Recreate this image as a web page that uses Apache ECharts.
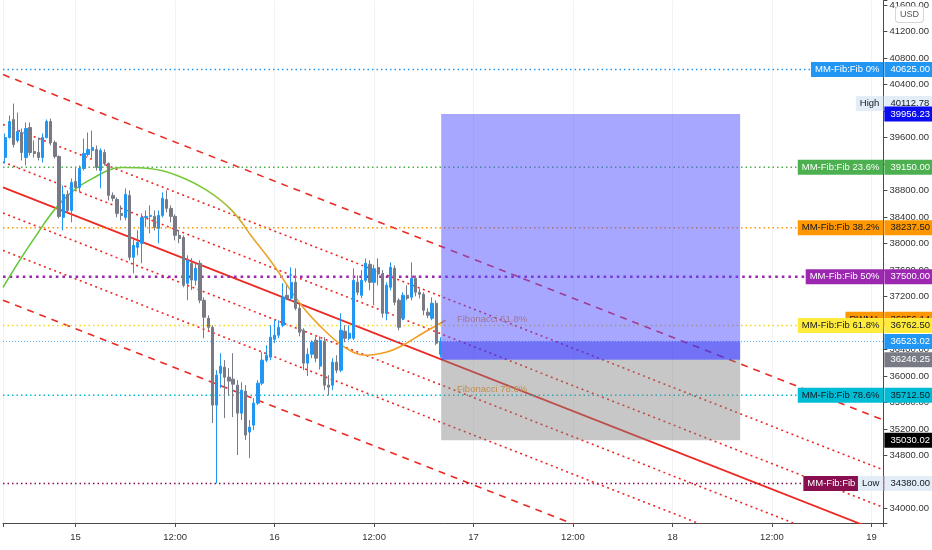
<!DOCTYPE html>
<html>
<head>
<meta charset="utf-8">
<script src="https://cdn.jsdelivr.net/npm/echarts@6/dist/echarts.min.js"></script>
<style>
html, body { margin: 0; padding: 0; background: #fff; }
#chart { width: 932px; height: 550px; }
</style>
</head>
<body>
<div id="chart"></div>
<script>
// time is in hours from 15 Jan 00:00, candles every 30 minutes
const candleStart = -8.5
const candleStep = 0.5

const opens = [
    39299, 39600, 39872, 39555, 39676, 39300, 39751, 39389, 39374, 39299,
    39600, 39842, 39525, 39314, 38395, 38742, 38500, 38937, 38847, 39133,
    39344, 39404, 39420, 39103, 39374, 39209, 38727, 38666, 38455, 38395,
    38727, 37792, 37943, 38003, 38395, 38410, 38410, 38229, 38425, 38666,
    38531, 38410, 38124, 38093, 37400, 37700, 37445, 37702, 37144, 36873,
    36737, 35562, 36044, 36135, 35984, 35954, 35863, 35441, 35773, 35155,
    35260, 35592, 35893, 36240, 36285, 36556, 36616, 36767, 37219, 37174,
    37415, 37023, 36692, 36195, 36330, 36541, 36150, 36526, 35863, 35863,
    36210, 36089, 36677, 36571, 36571, 37415, 37219, 37445, 37687, 37415,
    37640, 37540, 36948, 37340, 37626, 37144, 36873, 37219, 37189, 37475,
    37265, 37235, 36963, 36873, 37099, 36330
]
const closes = [
    39600, 39842, 39495, 39691, 39374, 39736, 39374, 39359, 39299, 39600,
    39842, 39525, 39314, 38410, 38742, 38500, 38922, 38847, 39133, 39359,
    39420, 39450, 39148, 39404, 39209, 38727, 38682, 38455, 38425, 38742,
    37792, 37973, 38018, 38395, 38410, 38425, 38244, 38425, 38682, 38531,
    38410, 38124, 38078, 37370, 37747, 37450, 37626, 37144, 36888, 36737,
    35562, 36014, 36150, 35984, 35924, 35878, 35441, 35788, 35110, 35230,
    35592, 35893, 36240, 36315, 36586, 36616, 36737, 37189, 37174, 37415,
    37023, 36662, 36195, 36330, 36511, 36270, 36541, 35863, 35833, 36210,
    36089, 36692, 36571, 36647, 37445, 37265, 37445, 37702, 37415, 37620,
    37540, 36948, 37370, 37641, 37114, 36737, 37219, 37174, 37475, 37265,
    37235, 36993, 36918, 37099, 36496, 36523.02
]
const lows = [
    39209, 39585, 39450, 39525, 39254, 39178, 39329, 39299, 39254, 39224,
    39585, 39480, 39284, 38380, 38199, 38455, 38320, 38832, 38772, 39103,
    39314, 39284, 39103, 38832, 39178, 38651, 38636, 38395, 38350, 38350,
    37747, 37551, 37822, 37702, 38244, 38154, 38199, 38003, 38395, 38470,
    38320, 38048, 38003, 37340, 37144, 37300, 37370, 37099, 36571, 36692,
    35290, 34380, 35818, 35366, 35712, 35381, 34808, 35336, 35034, 34763,
    35185, 35562, 35863, 36210, 36240, 36496, 36571, 36737, 37144, 37144,
    36993, 36601, 36089, 36000, 36270, 36210, 36100, 35788, 35712, 35788,
    36044, 36059, 36511, 36541, 36541, 37219, 37174, 37415, 37295, 37069,
    37370, 36880, 36843, 37295, 37069, 36692, 36843, 37144, 37144, 37204,
    37174, 36918, 36873, 36843, 36466, 36280
]
const highs = [
    39660, 39932, 40112.78, 39977, 39736, 39827, 39827, 39555, 39600, 39660,
    39872, 39887, 39555, 39329, 38877, 38802, 38982, 39148, 39178, 39585,
    39676, 39706, 39480, 39435, 39420, 39224, 38772, 38697, 38576, 38832,
    38802, 38093, 38199, 38455, 38500, 38576, 38500, 38500, 38772, 38802,
    38576, 38440, 38199, 38124, 37822, 37780, 37717, 37747, 37189, 36918,
    36767, 36089, 36345, 36240, 36119, 36345, 35939, 35908, 35863, 35336,
    35667, 35939, 36360, 36466, 36767, 36843, 36843, 37400, 37370, 37641,
    37626, 37099, 36722, 36420, 36541, 36600, 36600, 36586, 36014, 36270,
    36315, 36948, 36767, 36767, 37626, 37520, 37600, 37777, 37747, 37680,
    37777, 37600, 37415, 37717, 37671, 37174, 37265, 37370, 37717, 37520,
    37325, 37265, 37023, 37189, 37144, 36586
]

// MM-Fib levels
const fibNames = ['MM-Fib:Fib 0%', 'MM-Fib:Fib 23.6%', 'MM-Fib:Fib 38.2%', 'MM-Fib:Fib 50%',
    'MM-Fib:Fib 61.8%', 'MM-Fib:Fib 78.6%', 'MM-Fib:Fib']
const fibPrices = [40625, 39150, 38237.5, 37500, 36762.5, 35712.5, 34380]
const fibColors = ['#2196f3', '#4caf50', '#ff9800', '#9c27b0', '#f2d51c', '#00bcd4', '#880e4f']
const fibLabelBg = ['#2196f3', '#4caf50', '#ff9800', '#9c27b0', '#ffeb3b', '#00bcd4', '#880e4f']
const fibTextColors = ['#fff', '#fff', '#131722', '#fff', '#131722', '#131722', '#fff']

// regression channel (centre line at both ends of the view, offsets of the other lines)
const channelTimes = [-8.76, 97.44]
const channelCentre = [38847, 33633]
const channelOffsets = [1703, 950, 385, 0, -385, -950, -1703]
const channelKinds = ['dashed', 'dotted', 'dotted', 'solid', 'dotted', 'dotted', 'dashed']

// arc drawn over the candles
const curveTimes = [-8.76, -5.16, -1.56, 2.04, 5.64, 8.88, 12.24, 15.84, 18.84, 21.4, 23.64,
    27.24, 30, 32.64, 35.04, 37.44, 39.24, 41.88, 44.64]
const curvePrices = [37340, 38048, 38651, 38983, 39148, 39133, 39028, 38802, 38500, 38080, 37717,
    37069, 36692, 36421, 36315, 36360, 36451, 36647, 36843]
const curveTexts = ['Fibonacci 61.8%', 'Fibonacci 78.6%']
const curveTextTime = 46
const curveTextPrices = [36762.5, 35712.5]

// long position tool
const posTimes = [44.1, 80.16]
const targetPrice = 39956.23
const lastPrice = 36523.02
const entryPrice = 36246.25
const stopPrice = 35030.02

// other price scale tags
const highPrice = 40112.78
const lowPrice = 34380
const wmaPrice = 36856.14

const X_MIN = -8.76, X_MAX = 97.44
const FONT = 'Liberation Sans, Arial, sans-serif'

let candleData = []
for (let i = 0; i < opens.length; i++) {
    candleData.push([candleStart + i * candleStep, opens[i], closes[i], lows[i], highs[i]])
}

function lineStyleOf(kind, color) {
    if (kind === 'dashed') return { color: color, width: 1.6, type: [7, 6] }
    if (kind === 'dotted') return { color: color, width: 1.6, type: [2, 3.5] }
    return { color: color, width: 1.8, type: 'solid' }
}

let series = []

// channel lines
for (let i = 0; i < channelOffsets.length; i++) {
    series.push({
        type: 'line',
        z: 2,
        silent: true,
        symbol: 'none',
        lineStyle: lineStyleOf(channelKinds[i], '#ec2a24'),
        data: [[channelTimes[0], channelCentre[0] + channelOffsets[i]],
               [channelTimes[1], channelCentre[1] + channelOffsets[i]]]
    })
}

// fib horizontal lines
for (let i = 0; i < fibPrices.length; i++) {
    series.push({
        type: 'line',
        z: 2,
        silent: true,
        symbol: 'none',
        lineStyle: i === 3
            ? { color: fibColors[i], width: 2.6, type: [2.6, 4] }
            : { color: fibColors[i], width: 1.5, type: [1.5, 3] },
        data: [[X_MIN, fibPrices[i]], [X_MAX, fibPrices[i]]]
    })
}

// last price line
series.push({
    type: 'line',
    z: 2,
    symbol: 'none',
    lineStyle: { color: '#2196f3', width: 1, type: [1, 2], opacity: 0.8 },
    data: [[X_MIN, lastPrice], [X_MAX, lastPrice]]
})

// arc
series.push({
    type: 'line',
    z: 2,
    symbol: 'none',
    smooth: 0.4,
    lineStyle: {
        width: 1.6,
        color: new echarts.graphic.LinearGradient(0, 0, 1, 0, [
            { offset: 0, color: '#5fc73a' },
            { offset: 0.46, color: '#7cc838' },
            { offset: 0.56, color: '#e6a52a' },
            { offset: 1, color: '#f39c1f' }
        ])
    },
    data: curveTimes.map((t, i) => [t, curvePrices[i]])
})

// arc texts
series.push({
    type: 'scatter',
    z: 2,
    symbolSize: 0,
    clip: false,
    itemStyle: { opacity: 1 },
    data: curveTextPrices.map((p, i) => ({
        value: [curveTextTime, p],
        label: {
            show: true, position: 'right', distance: 0, offset: [0, -6],
            formatter: curveTexts[i], color: '#f09a28', fontSize: 9.5, fontFamily: FONT
        }
    }))
})

// position tool boxes
const posBoxes = [
    [posTimes[0], posTimes[1], entryPrice, targetPrice, 'rgba(80,80,255,0.5)'],
    [posTimes[0], posTimes[1], entryPrice, lastPrice, 'rgba(40,40,235,0.42)'],
    [posTimes[0], posTimes[1], stopPrice, entryPrice, 'rgba(128,128,128,0.44)']
]
series.push({
    type: 'custom',
    z: 3,
    silent: true,
    encode: { x: [0, 1], y: [2, 3] },
    renderItem: function (params, api) {
        const a = api.coord([api.value(0), api.value(3)])
        const b = api.coord([api.value(1), api.value(2)])
        return {
            type: 'rect',
            shape: { x: a[0], y: a[1], width: b[0] - a[0], height: b[1] - a[1] },
            style: { fill: posBoxes[params.dataIndex][4] }
        }
    },
    data: posBoxes.map(b => b.slice(0, 4))
})

// candles
series.push({
    type: 'candlestick',
    z: 4,
    barWidth: 2.8,
    encode: { x: 0, y: [1, 2, 3, 4] },
    itemStyle: {
        color: '#2196f3',
        color0: '#787b86',
        borderColor: '#2196f3',
        borderColor0: '#787b86',
        borderWidth: 1
    },
    data: candleData
})

// price scale tags
function tag(text, bg, fg, side, dx) {
    return {
        show: true,
        position: side,
        distance: side === 'right' ? 1 : 0,
        offset: [dx || 0, 0],
        formatter: text,
        backgroundColor: bg,
        color: fg,
        fontSize: 9.5,
        fontFamily: FONT,
        lineHeight: 11,
        padding: side === 'right' ? [2, 3, 2, 6] : [2, 4, 2, 4]
    }
}
let tags = []
function addTag(price, name, bg, fg, nameDx) {
    if (name) tags.push({ value: [X_MAX, price], label: tag(name, bg, fg, 'left', nameDx) })
    tags.push({ value: [X_MAX, price], label: tag(price.toFixed(2), bg, fg, 'right') })
}
addTag(fibPrices[0], fibNames[0], fibLabelBg[0], fibTextColors[0])
addTag(highPrice, 'High', '#e3edf7', '#131722')
addTag(targetPrice, null, '#0b0bef', '#fff')
addTag(fibPrices[1], fibNames[1], fibLabelBg[1], fibTextColors[1])
addTag(fibPrices[2], fibNames[2], fibLabelBg[2], fibTextColors[2])
addTag(fibPrices[3], fibNames[3], fibLabelBg[3], fibTextColors[3])
addTag(wmaPrice, 'RWMA', '#ff9800', '#131722')
addTag(fibPrices[4], fibNames[4], fibLabelBg[4], fibTextColors[4])
addTag(lastPrice, null, '#2196f3', '#fff')
addTag(entryPrice, null, '#787b86', '#fff')
addTag(fibPrices[5], fibNames[5], fibLabelBg[5], fibTextColors[5])
addTag(stopPrice, null, '#000', '#fff')
addTag(fibPrices[6], fibNames[6], fibLabelBg[6], fibTextColors[6], -24)
addTag(lowPrice, 'Low', '#e3edf7', '#131722')

series.push({
    type: 'scatter',
    z: 10,
    symbolSize: 0,
    clip: false,
    silent: true,
    itemStyle: { opacity: 1 },
    data: tags
})

let option = {
    animation: false,
    backgroundColor: '#fff',
    grid: { left: 0, right: 47, top: 0, bottom: 27 },
    xAxis: {
        type: 'value',
        min: X_MIN,
        max: X_MAX,
        minInterval: 12,
        maxInterval: 12,
        axisLine: { onZero: false, lineStyle: { color: '#4a4a4a', width: 1 } },
        axisTick: { show: true, length: 4, lineStyle: { color: '#4a4a4a' } },
        axisLabel: {
            color: '#333',
            fontSize: 9.5,
            fontFamily: FONT,
            margin: 9,
            formatter: function (v) {
                if (Math.abs(v % 12) > 1e-6) return ''
                if (Math.abs(v % 24) < 1e-6) return String(15 + v / 24)
                return '12:00'
            }
        },
        splitLine: { show: true, lineStyle: { color: '#f0f2f6', width: 1 } }
    },
    yAxis: {
        type: 'value',
        position: 'right',
        min: 33783,
        max: 41665,
        minInterval: 400,
        maxInterval: 400,
        axisLine: { show: true, onZero: false, lineStyle: { color: '#4a4a4a', width: 1 } },
        axisTick: { show: true, length: 4, lineStyle: { color: '#4a4a4a' } },
        axisLabel: {
            color: '#333',
            fontSize: 9.5,
            fontFamily: FONT,
            margin: 6,
            formatter: function (v) {
                return Math.abs(v % 400) < 1e-6 ? v.toFixed(2) : ''
            }
        },
        splitLine: { show: false }
    },
    graphic: [{
        type: 'text',
        right: 8,
        top: 6,
        z: 100,
        style: {
            text: 'USD',
            fill: '#555',
            font: '9px ' + FONT,
            backgroundColor: '#fff',
            borderColor: '#d6d6d6',
            borderWidth: 1,
            borderRadius: 3,
            padding: [3, 4]
        }
    }],
    series: series
}

let chart = echarts.init(document.getElementById('chart'))
chart.setOption(option)
</script>
</body>
</html>
